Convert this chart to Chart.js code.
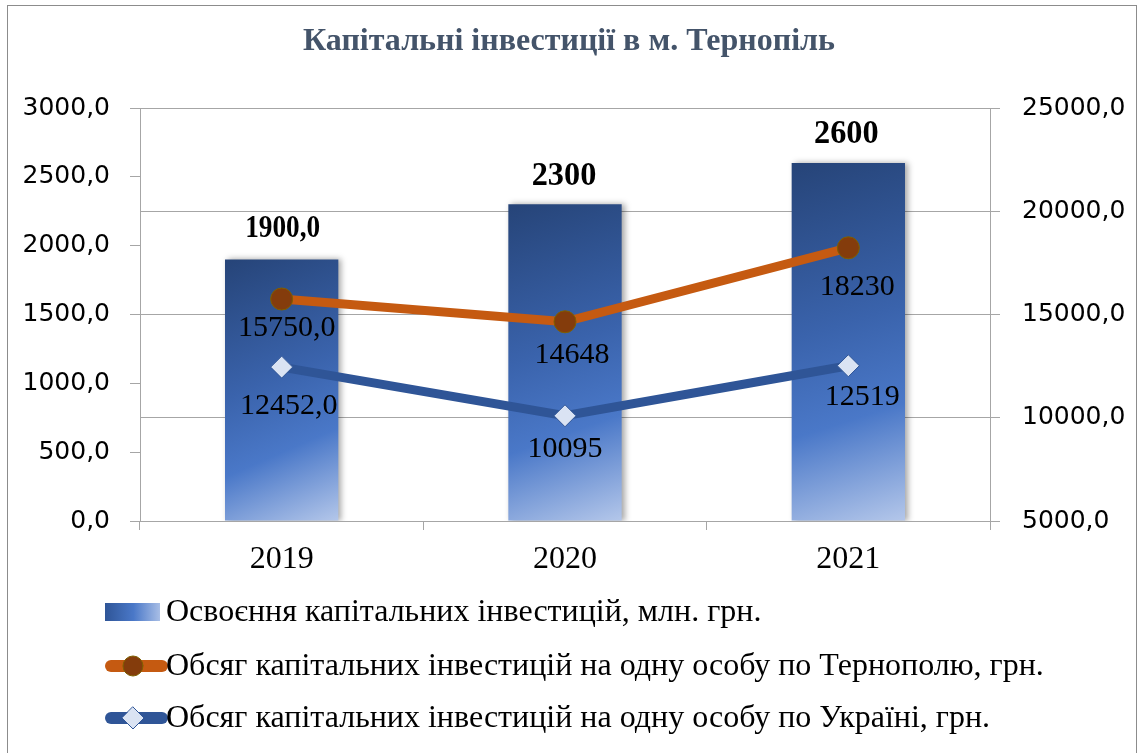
<!DOCTYPE html>
<html lang="uk">
<head>
<meta charset="utf-8">
<title>Капітальні інвестиції в м. Тернопіль</title>
<script src="https://cdn.jsdelivr.net/npm/chart.js@4/dist/chart.umd.min.js"></script>
<style>
    html, body { margin: 0; padding: 0; background: #fff; }
    #wrap { position: relative; width: 1138px; height: 753px; overflow: hidden; }
    #frame { position: absolute; left: 7px; top: 5px; width: 1128px; height: 800px; border: 1px solid #8c8c8c; }
    #chart { position: absolute; left: 0; top: 0; }
</style>
</head>
<body>
<div id="wrap">
    <div id="frame"></div>
    <canvas id="chart" width="1138" height="753"></canvas>
</div>
<script>
// Дані
const years = ['2019', '2020', '2021'];
const investVolume = [1900, 2300, 2600];
const perPersonTernopil = [15750, 14648, 18230];
const perPersonUkraine = [12452, 10095, 12519];

const investLabels = ['1900,0', '2300', '2600'];
const ternopilLabels = ['15750,0', '14648', '18230'];
const ukraineLabels = ['12452,0', '10095', '12519'];

const seriesNames = [
    'Освоєння капітальних інвестицій, млн. грн.',
    'Обсяг капітальних інвестицій на одну особу по Тернополю, грн.',
    'Обсяг капітальних інвестицій на одну особу по Україні, грн.'
];

const SERIF = "'Liberation Serif', 'Times New Roman', serif";
const SANS = "'DejaVu Sans', Verdana, sans-serif";
const GRID = '#a6a6a6';
const ORANGE = '#C55A11';
const BLUE = '#2F5597';

const fmtComma = v => v.toFixed(1).replace('.', ',');

// градієнт стовпця, рахується від меж самого стовпця
function barFill(context) {
    const chart = context.chart;
    const { ctx, chartArea, scales } = chart;
    if (!chartArea || context.dataIndex === undefined) return '#4472C4';
    const top = scales.y.getPixelForValue(context.raw);
    const bottom = scales.y.getPixelForValue(0);
    const x = scales.x.getPixelForValue(context.dataIndex);
    const g = ctx.createLinearGradient(x - 57, top, x + 57, bottom);
    g.addColorStop(0, '#264478');
    g.addColorStop(0.45, '#3A63AC');
    g.addColorStop(0.7, '#4A78C8');
    g.addColorStop(1, '#B4C7EA');
    return g;
}

const barShadow = {
    id: 'barShadow',
    beforeDatasetDraw(chart, args) {
        if (args.meta.type !== 'bar') return;
        const ctx = chart.ctx;
        ctx.save();
        ctx.shadowColor = 'rgba(0,0,0,0.35)';
        ctx.shadowBlur = 6;
        ctx.shadowOffsetX = 3;
        ctx.shadowOffsetY = 0;
    },
    afterDatasetDraw(chart, args) {
        if (args.meta.type !== 'bar') return;
        chart.ctx.restore();
    }
};

// підписи значень; зсуви як у оригіналі (підписи там пересунуті вручну)
const valueLabels = {
    id: 'valueLabels',
    afterDatasetsDraw(chart) {
        const ctx = chart.ctx;
        const sets = [
            { idx: 0, texts: investLabels, fonts: ['bold 31px', 'bold 34px', 'bold 34px'],
              sx: [0.88, 0.95, 0.95], off: [[1, -30], [-1, -28], [-2, -29]] },
            { idx: 1, texts: ternopilLabels, fonts: ['30px', '30px', '30px'],
              sx: [1, 1, 1], off: [[5, 29], [7, 33], [9, 39]] },
            { idx: 2, texts: ukraineLabels, fonts: ['30px', '30px', '30px'],
              sx: [1, 1, 1], off: [[7, 39], [0, 33], [14, 31]] }
        ];
        ctx.fillStyle = '#000';
        ctx.textAlign = 'center';
        ctx.textBaseline = 'middle';
        sets.forEach(s => {
            chart.getDatasetMeta(s.idx).data.forEach((el, i) => {
                ctx.save();
                ctx.translate(el.x + s.off[i][0], el.y + s.off[i][1]);
                ctx.scale(s.sx[i], 1);
                ctx.font = s.fonts[i] + ' ' + SERIF;
                ctx.fillText(s.texts[i], 0, 0);
                ctx.restore();
            });
        });
    }
};

const sideLegend = {
    id: 'sideLegend',
    afterDraw(chart) {
        const ctx = chart.ctx;
        const x0 = 105, x1 = 162, textX = 166;
        const rows = [612, 666, 718];
        ctx.save();

        // стовпці
        const g = ctx.createLinearGradient(x0, 0, x1, 0);
        g.addColorStop(0, '#2F5597');
        g.addColorStop(0.5, '#4A78C8');
        g.addColorStop(1, '#AFC3E8');
        ctx.fillStyle = g;
        ctx.fillRect(x0, rows[0] - 9, x1 - x0 - 2, 18);

        // лінії з маркерами
        ctx.lineCap = 'round';
        ctx.lineWidth = 12;
        [[rows[1], ORANGE], [rows[2], BLUE]].forEach(([y, c]) => {
            ctx.strokeStyle = c;
            ctx.beginPath();
            ctx.moveTo(x0 + 6, y);
            ctx.lineTo(x1, y);
            ctx.stroke();
        });
        const mx = 133;
        ctx.lineWidth = 1;
        ctx.fillStyle = '#843C0C';
        ctx.strokeStyle = '#7F6000';
        ctx.beginPath();
        ctx.arc(mx, rows[1], 10, 0, Math.PI * 2);
        ctx.fill();
        ctx.stroke();
        ctx.fillStyle = '#DAE3F3';
        ctx.strokeStyle = '#2F5597';
        ctx.beginPath();
        ctx.moveTo(mx, rows[2] - 11);
        ctx.lineTo(mx + 11, rows[2]);
        ctx.lineTo(mx, rows[2] + 11);
        ctx.lineTo(mx - 11, rows[2]);
        ctx.closePath();
        ctx.fill();
        ctx.stroke();

        ctx.fillStyle = '#000';
        ctx.font = '32px ' + SERIF;
        ctx.textAlign = 'left';
        ctx.textBaseline = 'middle';
        seriesNames.forEach((t, i) => ctx.fillText(t, textX, rows[i] + 1));
        ctx.restore();
    }
};

new Chart(document.getElementById('chart'), {
    data: {
        labels: years,
        datasets: [
            {
                type: 'bar',
                label: seriesNames[0],
                data: investVolume,
                yAxisID: 'y',
                backgroundColor: barFill,
                borderWidth: 0,
                barPercentage: 0.8,
                categoryPercentage: 0.5,
                order: 3
            },
            {
                type: 'line',
                label: seriesNames[1],
                data: perPersonTernopil,
                yAxisID: 'y1',
                borderColor: ORANGE,
                borderWidth: 9,
                pointStyle: 'circle',
                pointRadius: 11,
                pointBackgroundColor: '#843C0C',
                pointBorderColor: '#7F6000',
                pointBorderWidth: 1,
                tension: 0,
                order: 1
            },
            {
                type: 'line',
                label: seriesNames[2],
                data: perPersonUkraine,
                yAxisID: 'y1',
                borderColor: BLUE,
                borderWidth: 9,
                pointStyle: 'rectRot',
                pointRadius: 11,
                pointBackgroundColor: '#DAE3F3',
                pointBorderColor: '#2F5597',
                pointBorderWidth: 1,
                tension: 0,
                order: 2
            }
        ]
    },
    options: {
        responsive: false,
        animation: false,
        layout: { padding: { left: 0, right: 0, top: 0, bottom: 172 } },
        plugins: {
            legend: { display: false },
            tooltip: { enabled: false },
            title: {
                display: true,
                text: 'Капітальні інвестиції в м. Тернопіль',
                color: '#44546A',
                font: { family: SERIF, size: 32, weight: 'bold' },
                padding: { top: 23, bottom: 46.6 }
            }
        },
        scales: {
            x: {
                offset: true,
                afterFit(s) { s.height = 60; },
                grid: { offset: true, color: 'transparent', tickColor: GRID, tickLength: 9 },
                border: { color: GRID },
                ticks: { color: '#000', padding: 10, font: { family: SERIF, size: 32 } }
            },
            y: {
                position: 'left',
                min: 0,
                max: 3000,
                afterFit(s) { s.width = 140; },
                grid: { color: 'transparent', tickColor: GRID, tickLength: 10 },
                border: { color: GRID },
                ticks: {
                    stepSize: 500,
                    color: '#000',
                    padding: 20,
                    font: { family: SANS, size: 25 },
                    callback: v => fmtComma(v)
                }
            },
            y1: {
                position: 'right',
                min: 5000,
                max: 25000,
                afterFit(s) { s.width = 148; },
                grid: { color: GRID, tickColor: GRID, tickLength: 10 },
                border: { color: GRID },
                ticks: {
                    stepSize: 5000,
                    color: '#000',
                    padding: 22,
                    font: { family: SANS, size: 25 },
                    callback: v => fmtComma(v)
                }
            }
        }
    },
    plugins: [barShadow, valueLabels, sideLegend]
});
</script>
</body>
</html>
